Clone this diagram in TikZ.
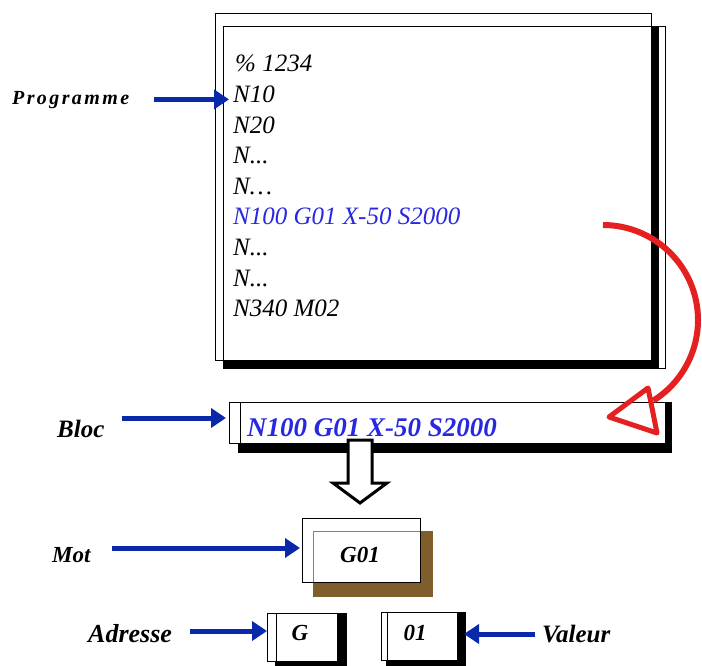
\documentclass[tikz,border=0pt]{standalone}
\usepackage{fontspec}
\setmainfont{Liberation Serif}
\usetikzlibrary{arrows.meta}
\definecolor{arrowblue}{RGB}{10,40,170}
\definecolor{codeblue}{RGB}{40,40,225}
\definecolor{motbrown}{RGB}{128,94,44}
\definecolor{motline}{RGB}{165,125,65}
\definecolor{arcred}{RGB}{228,32,32}
\begin{document}
\begin{tikzpicture}[x=1pt,y=-1pt,
  lbl/.style={inner sep=0pt, anchor=base west, font=\fontsize{25}{30}\selectfont\bfseries\itshape},
  codeline/.style={inner sep=0pt, anchor=base west, font=\fontsize{25}{30}\selectfont\itshape},
  boxtext/.style={inner sep=0pt, anchor=base, font=\fontsize{23}{28}\selectfont\bfseries\itshape},
  bluearrow/.style={draw=arrowblue, line width=5pt, -{Triangle[length=15pt,width=19pt]}},
  thinline/.style={draw=black, line width=0.9pt},
  frontbox/.style={thinline, fill=white, inner sep=0pt, anchor=north west, outer sep=0pt},
  redline/.style={draw=arcred, line width=6pt},
]
\useasboundingbox (0,0) rectangle (702,666);
\fill[white] (0,0) rectangle (702,666);

% ---------- program box ----------
\draw[thinline] (223,26) rectangle (665,368);
\fill (651,26) rectangle (659,368);
\fill (223,360) rectangle (659,368);
\node[thinline, inner sep=0pt, anchor=north west, minimum width=436pt, minimum height=347pt] (prog) at (215,13) {};

\node[codeline] (c0) at (235,72) {\%\ 1234};
\node[codeline] (c1) at (233,102.6) {N10};
\node[codeline] (c2) at (233,133.2) {N20};
\node[codeline] (c3) at (233,163.8) {N...};
\node[codeline] (c4) at (233,194.4) {N…};
\node[codeline, text=codeblue] (c5) at (233,225) {N100 G01 X-50 S2000};
\node[codeline] (c6) at (233,255.6) {N...};
\node[codeline] (c7) at (233,286.2) {N...};
\node[codeline] (c8) at (233,316.8) {N340 M02};

% ---------- Programme label ----------
\node[lbl, font=\fontsize{20}{24}\selectfont\bfseries\itshape] (lprog) at (12,105) {\addfontfeatures{LetterSpace=12}Programme};
\coordinate (pIn) at ([xshift=-4pt, yshift=-5pt]c1.west);
\draw[bluearrow, shorten <=25pt] (lprog.east |- pIn) -- (pIn);

% ---------- bloc box ----------
\fill (238,402) rectangle (672,453);
\node[frontbox, minimum width=436pt, minimum height=41pt] (bloc) at (229,402) {};
\draw[thinline] (240,402) -- (240,443);
\node[lbl, font=\fontsize{27}{32}\selectfont\bfseries\itshape, text=codeblue] (bloctext) at (247,436) {N100 G01 X-50 S2000};

\node[lbl] (lbloc) at (57,437) {Bloc};
\coordinate (bIn) at ([xshift=-3pt, yshift=4.5pt]bloc.west);
\draw[bluearrow, shorten <=17pt] (lbloc.east |- bIn) -- (bIn);

% ---------- hollow arrow bloc -> mot ----------
\draw[line width=3pt, fill=white, line join=miter]
  (348,440) -- (348,483) -- (333,483) -- (360,503) -- (387,483) -- (372,483) -- (372,440) -- cycle;

% ---------- mot box ----------
\fill[motbrown] (313,531) rectangle (433,597);
\node[frontbox, minimum width=118pt, minimum height=64pt] (mot) at (302,518) {};
\draw[draw=motline, line width=1pt] (313,582) -- (313,531) -- (420,531);
\node[boxtext] (mottext) at (360,562) {G01};

\node[lbl, font=\fontsize{23}{27}\selectfont\bfseries\itshape] (lmot) at (52,562) {Mot};
\coordinate (mIn) at ([xshift=-2pt, yshift=2pt]mot.west);
\draw[bluearrow, shorten <=21pt] (lmot.east |- mIn) -- (mIn);

% ---------- adresse box ----------
\fill (275,613) rectangle (347,672);
\node[frontbox, minimum width=70pt, minimum height=48pt] (gbox) at (267,613) {};
\draw[thinline] (276,613) -- (276,661);
\node[boxtext] (gtext) at (300,640) {G};

\node[lbl, font=\fontsize{26}{30}\selectfont\bfseries\itshape] (ladr) at (88,642) {Adresse};
\coordinate (gIn) at ([yshift=6pt]gbox.west);
\draw[bluearrow, shorten <=18pt] (ladr.east |- gIn) -- (gIn);

% ---------- valeur box ----------
\fill (386,612) rectangle (466,672);
\node[frontbox, minimum width=76pt, minimum height=48pt] (vbox) at (381,612) {};
\draw[thinline] (387,612) -- (387,660);
\node[boxtext] (vtext) at (415,640) {01};

\node[lbl] (lval) at (542,642) {Valeur};
\coordinate (vIn) at ([xshift=7pt, yshift=2pt]vbox.east);
\draw[bluearrow, shorten <=7pt] (lval.west |- vIn) -- (vIn);

% ---------- red arrow program line -> bloc ----------
\coordinate (redS) at (603,225);
\draw[redline] (redS) arc[start angle=-90, end angle=58, radius=95];
\draw[draw=arcred, line width=5pt, line join=round] (609,417) -- (648,388) -- (657,433) -- cycle;
\end{tikzpicture}
\end{document}
